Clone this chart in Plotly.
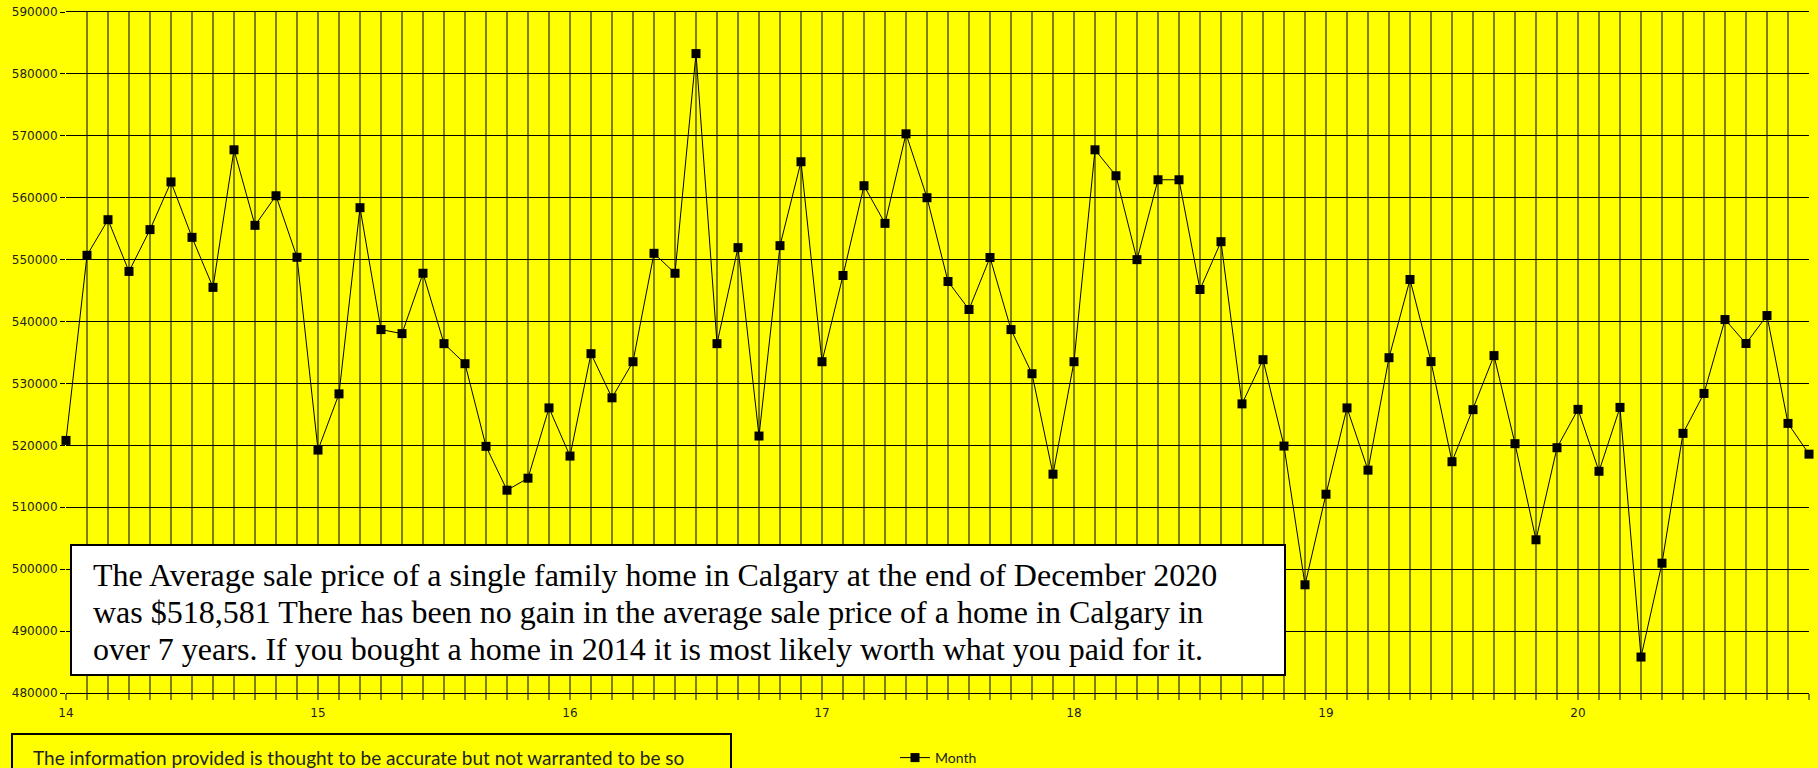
import plotly.graph_objects as go

# ---- data (average sale price, monthly Jan 2014 .. Dec 2020) ----
year_ticks = [14, 15, 16, 17, 18, 19, 20]
year_labels = ["14", "15", "16", "17", "18", "19", "20"]

p2014 = [520800, 550700, 556450, 548100, 554850, 562550, 553600, 545520, 567740, 555540, 560320, 550380]
p2015 = [519240, 528320, 558390, 538700, 538050, 547800, 536430, 533190, 519840, 512760, 514700, 526050]
p2016 = [518270, 534810, 527680, 533510, 551020, 547800, 583280, 536430, 551940, 521510, 552260, 565810]
p2017 = [533510, 547440, 561940, 555860, 570320, 560000, 546470, 541950, 550350, 538700, 531570, 515350]
p2018 = [533510, 567740, 563550, 550000, 562900, 562900, 545180, 552900, 526700, 533840, 519890, 497480]
p2019 = [512110, 526050, 516000, 534160, 546790, 533530, 517360, 525770, 534500, 520270, 504750, 519620]
p2020 = [525810, 515810, 526130, 485810, 500970, 521940, 528390, 540320, 536450, 540970, 523550, 518581]

prices = p2014 + p2015 + p2016 + p2017 + p2018 + p2019 + p2020
x_vals = [year_ticks[0] + i / 12 for i in range(len(prices))]

note_lines = [
    "The Average sale price of a single family home in Calgary at the end of December 2020",
    "was $518,581 There has been no gain in the average sale price of a home in Calgary in",
    "over 7 years. If you bought a home in 2014 it is most likely worth what you paid for it.",
]
foot_note = "The information provided is thought to be accurate but not warranted to be so"

# ---- geometry (page pixels; body margin removed below) ----
W, H = 1818, 768
L, R, T, B = 66, 1809, 12, 693
pw, ph = R - L, B - T


def px(x):
    return (x - L) / pw


def py(y):
    return (B - y) / ph


OLIVE = "#808000"
LABEL = "#222222"

fig = go.Figure()
fig.add_trace(go.Scatter(
    x=x_vals, y=prices, mode="lines+markers", name="Month",
    line=dict(color="black", width=1),
    marker=dict(symbol="square", size=9, color="black"),
    cliponaxis=False,
))

fig.update_layout(
    width=W, height=H,
    margin=dict(l=L, r=W - R, t=T, b=H - B, autoexpand=False),
    paper_bgcolor="#FFFF00", plot_bgcolor="#FFFF00",
    font=dict(family="DejaVu Sans", color=LABEL),
    showlegend=True,
    legend=dict(x=px(895), y=py(758), xanchor="left", yanchor="middle",
                bgcolor="rgba(0,0,0,0)", font=dict(family="Lato", size=14, color=LABEL),
                itemwidth=30, tracegroupgap=0),
    xaxis=dict(
        range=[x_vals[0] - 1e-6, x_vals[-1] + 1e-6],
        tickmode="array", tickvals=year_ticks, ticktext=year_labels,
        showgrid=True, gridcolor=OLIVE, gridwidth=2,
        ticks="outside", ticklen=6, tickwidth=2, tickcolor=OLIVE,
        minor=dict(dtick=1 / 12, tick0=year_ticks[0], showgrid=True, gridcolor=OLIVE, gridwidth=2,
                   ticks="outside", ticklen=6, tickwidth=2, tickcolor=OLIVE),
        showline=True, linecolor="black", linewidth=1, mirror=True,
        zeroline=False,
        tickfont=dict(family="DejaVu Sans", size=12, color=LABEL),
        ticklabelstandoff=3,
    ),
    yaxis=dict(
        range=[480000, 590000], dtick=10000, tick0=480000,
        showgrid=True, gridcolor="black", gridwidth=1,
        ticks="outside", ticklen=5, tickcolor="black", tickwidth=1,
        showline=False, zeroline=False,
        tickformat="d", ticklabeloverflow="allow",
        tickfont=dict(family="DejaVu Sans", size=12, color=LABEL),
    ),
)

# white note box
fig.add_shape(type="rect", xref="paper", yref="paper",
              x0=px(71), x1=px(1285), y0=py(675), y1=py(545),
              fillcolor="white", line=dict(color="black", width=2), layer="above")
line_centers = [575, 612, 649]
for txt, yc in zip(note_lines, line_centers):
    fig.add_annotation(xref="paper", yref="paper", x=px(91), y=py(yc),
                       xanchor="left", yanchor="middle", align="left", showarrow=False,
                       text=txt,
                       font=dict(family="Liberation Serif", size=32, color="black"))

# footer box
fig.add_shape(type="rect", xref="paper", yref="paper",
              x0=px(12), x1=px(731), y0=py(790), y1=py(734),
              fillcolor="rgba(0,0,0,0)", line=dict(color="black", width=2), layer="above")
fig.add_annotation(xref="paper", yref="paper", x=px(31), y=py(757),
                   xanchor="left", yanchor="middle", align="left", showarrow=False,
                   text=foot_note,
                   font=dict(family="Lato", size=19, color=LABEL))

fig.write_html("out.html",
               config={"displayModeBar": False},
               post_script="document.body.style.margin='0';document.body.style.overflow='hidden';")
